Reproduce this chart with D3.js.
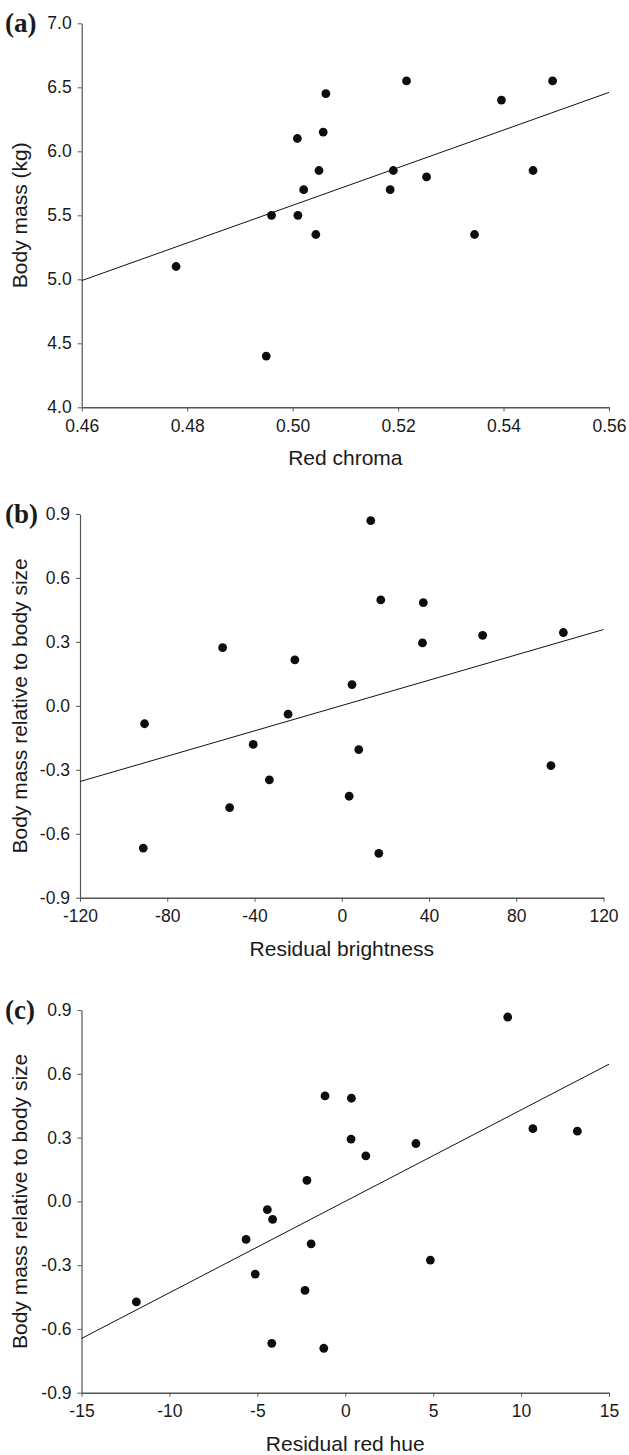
<!DOCTYPE html>
<html>
<head>
<meta charset="utf-8" />
<title>Body mass vs colour</title>
<script src="https://d3js.org/d3.v7.min.js"></script>
<style>
body { margin: 0; background: #fff; }
svg text { font-family: "Liberation Sans", Arial, sans-serif; fill: #1a1a1a; }
.axis path, .axis line { stroke: #555; }
.axis text { font-size: 17.5px; }
.title { font-size: 21px; }
.panel-label { font-family: "Liberation Serif", "Times New Roman", serif; font-weight: bold; font-size: 27px; }
</style>
</head>
<body>
<svg id="chart" width="629" height="1455"></svg>
<script>

/* ---- data ---- */

// (a) red chroma vs body mass
var chromaX = [0.4779, 0.4950, 0.4960, 0.5010, 0.5009, 0.5021, 0.5050, 0.5058, 0.5063,
               0.5044, 0.5216, 0.5185, 0.5191, 0.5254, 0.5345, 0.5396, 0.5456, 0.5493];
var massY   = [5.10, 4.40, 5.50, 5.50, 6.10, 5.70, 5.85, 6.15, 6.45,
               5.35, 6.55, 5.70, 5.85, 5.80, 5.35, 6.40, 5.85, 6.55];
var fitAX = [0.46, 0.56];
var fitAY = [4.99, 6.46];
var ticksAX = [0.46, 0.48, 0.50, 0.52, 0.54, 0.56];
var ticksAY = [4.0, 4.5, 5.0, 5.5, 6.0, 6.5, 7.0];

// (b) residual brightness vs relative body mass
var brightX  = [13.3, 17.9, 37.4, 37.0, 64.6, 101.6, -54.6, -21.5, 4.7, -24.6,
                -90.4, -40.6, 7.8, 95.9, -33.2, 3.4, -51.4, -91.0, 17.0];
var relMassB = [0.869, 0.497, 0.484, 0.295, 0.331, 0.344, 0.273, 0.216, 0.100, -0.039,
                -0.084, -0.181, -0.205, -0.280, -0.347, -0.424, -0.477, -0.667, -0.692];
var fitBX = [-120, 120];
var fitBY = [-0.355, 0.358];
var ticksBX = [-120, -80, -40, 0, 40, 80, 120];
var ticksBY = [-0.9, -0.6, -0.3, 0.0, 0.3, 0.6, 0.9];

// (c) residual red hue vs relative body mass
var hueX     = [9.24, -1.15, 0.35, 0.33, 1.17, 4.02, 10.67, 13.2, -2.18, -4.43,
                -4.13, -5.64, -1.94, 4.84, -5.12, -2.29, -11.88, -4.18, -1.22];
var relMassC = [0.867, 0.496, 0.485, 0.293, 0.214, 0.272, 0.342, 0.330, 0.099, -0.039,
                -0.085, -0.179, -0.200, -0.276, -0.342, -0.419, -0.473, -0.668, -0.691];
var fitCX = [-15, 15];
var fitCY = [-0.645, 0.645];
var ticksCX = [-15, -10, -5, 0, 5, 10, 15];
var ticksCY = [-0.9, -0.6, -0.3, 0.0, 0.3, 0.6, 0.9];

// plain hyphen for negative numbers, like the original figure
var locale = d3.formatLocale({ decimal: ".", thousands: ",", grouping: [3],
                               currency: ["", ""], minus: "-" });

/* ---- panels ---- */
var panels = [
  { label: "(a)", xs: chromaX, ys: massY, fx: fitAX, fy: fitAY,
    tx: ticksAX, ty: ticksAY, xfmt: locale.format(".2f"), yfmt: locale.format(".1f"),
    xtitle: "Red chroma", ytitle: "Body mass (kg)",
    left: 81.7, right: 609, top: 23.3, bottom: 407.3 },
  { label: "(b)", xs: brightX, ys: relMassB, fx: fitBX, fy: fitBY,
    tx: ticksBX, ty: ticksBY, xfmt: locale.format("d"), yfmt: locale.format(".1f"),
    xtitle: "Residual brightness", ytitle: "Body mass relative to body size",
    left: 80, right: 603.5, top: 514, bottom: 897.7 },
  { label: "(c)", xs: hueX, ys: relMassC, fx: fitCX, fy: fitCY,
    tx: ticksCX, ty: ticksCY, xfmt: locale.format("d"), yfmt: locale.format(".1f"),
    xtitle: "Residual red hue", ytitle: "Body mass relative to body size",
    left: 81.5, right: 609, top: 1010, bottom: 1392.7 }
];

var svg = d3.select("#chart");

panels.forEach(function(p) {
  var x = d3.scaleLinear()
      .domain(d3.extent(p.tx))
      .range([p.left, p.right]);
  var y = d3.scaleLinear()
      .domain(d3.extent(p.ty))
      .range([p.bottom, p.top]);

  var g = svg.append("g");

  // axes
  g.append("g")
      .attr("class", "axis")
      .attr("transform", "translate(0," + p.bottom + ")")
      .call(d3.axisBottom(x).tickValues(p.tx).tickFormat(p.xfmt)
              .tickSize(4).tickSizeOuter(0).tickPadding(8))
      .call(function(a) { a.select(".domain").attr("stroke-width", 1.6); });

  g.append("g")
      .attr("class", "axis")
      .attr("transform", "translate(" + p.left + ",0)")
      .call(d3.axisLeft(y).tickValues(p.ty).tickFormat(p.yfmt)
              .tickSize(4).tickSizeOuter(0).tickPadding(6))
      .call(function(a) { a.select(".domain").attr("stroke-width", 1.2); });

  // let the css fonts win over d3's defaults
  g.selectAll(".axis").attr("font-family", null).attr("font-size", null);
  g.selectAll(".axis text").attr("fill", "#1a1a1a");

  // regression line
  var line = d3.line()
      .x(function(d) { return x(d[0]); })
      .y(function(d) { return y(d[1]); });
  g.append("path")
      .datum(d3.zip(p.fx, p.fy))
      .attr("d", line)
      .attr("fill", "none")
      .attr("stroke", "#111")
      .attr("stroke-width", 1);

  // points
  g.selectAll("circle")
      .data(d3.zip(p.xs, p.ys))
      .enter()
      .append("circle")
      .attr("cx", function(d) { return x(d[0]); })
      .attr("cy", function(d) { return y(d[1]); })
      .attr("r", 4.4)
      .attr("fill", "#0d0d0d");

  // titles
  g.append("text")
      .attr("class", "title")
      .attr("x", (p.left + p.right) / 2)
      .attr("y", p.bottom + 58)
      .attr("text-anchor", "middle")
      .text(p.xtitle);

  g.append("text")
      .attr("class", "title")
      .attr("transform", "translate(27," + (p.top + p.bottom) / 2 + ") rotate(-90)")
      .attr("text-anchor", "middle")
      .text(p.ytitle);

  g.append("text")
      .attr("class", "panel-label")
      .attr("x", 5)
      .attr("y", p.top + 9)
      .text(p.label);
});

</script>
</body>
</html>
